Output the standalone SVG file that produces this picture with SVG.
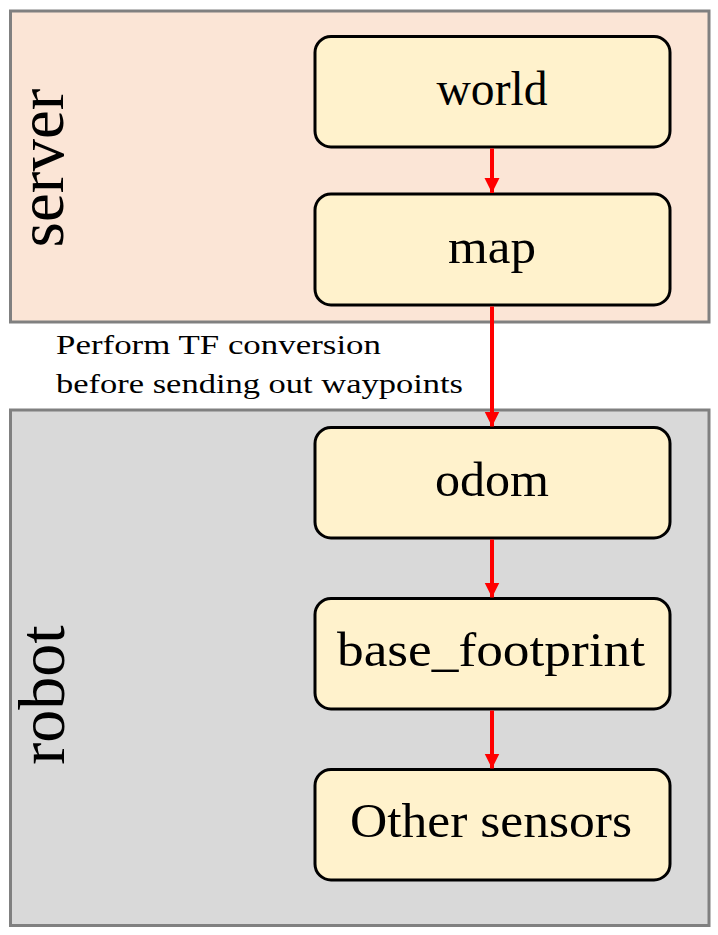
<svg xmlns="http://www.w3.org/2000/svg" width="718" height="935" viewBox="0 0 718 935">
<style>
.group{stroke:#808080;stroke-width:3}
.node rect{fill:#fff2cc;stroke:#000;stroke-width:3}
.lbl{font-family:"Liberation Serif","Times New Roman",serif;fill:#000}
.node text{font-size:48px;text-anchor:middle}
.edge{stroke:#ff0000;stroke-width:4;fill:none}
</style>
<defs>
<marker id="ah" markerUnits="userSpaceOnUse" markerWidth="16" markerHeight="16" viewBox="0 0 16 16" refX="15" refY="8" orient="auto">
<path d="M0,0.5 L15,8 L0,15.5 Z" fill="#ff0000"/>
</marker>
</defs>
<rect width="718" height="935" fill="#fff"/>
<g id="server">
<rect class="group" x="10.5" y="11" width="698.5" height="311" fill="#fbe5d6"/>
<text class="lbl" x="63" y="168" font-size="65" text-anchor="middle" transform="rotate(-90 63 168)">server</text>
</g>
<g id="robot">
<rect class="group" x="10.5" y="410" width="698.5" height="515.5" fill="#d9d9d9"/>
<text class="lbl" x="64" y="695" font-size="66" text-anchor="middle" transform="rotate(-90 64 695)">robot</text>
</g>
<g id="note">
<text class="lbl" x="56" y="354" font-size="27" textLength="325" lengthAdjust="spacingAndGlyphs">Perform TF conversion</text>
<text class="lbl" x="56" y="393" font-size="27" textLength="407" lengthAdjust="spacingAndGlyphs">before sending out waypoints</text>
</g>
<g id="world" class="node">
<rect x="315" y="36.5" width="355" height="110.5" rx="16"/>
<text class="lbl" x="492" y="105" textLength="111" lengthAdjust="spacingAndGlyphs">world</text>
</g>
<g id="map" class="node">
<rect x="315" y="194" width="355" height="111" rx="16"/>
<text class="lbl" x="492" y="263" textLength="88" lengthAdjust="spacingAndGlyphs">map</text>
</g>
<g id="odom" class="node">
<rect x="315" y="427.5" width="355" height="110.5" rx="16"/>
<text class="lbl" x="492" y="496" textLength="114" lengthAdjust="spacingAndGlyphs">odom</text>
</g>
<g id="base_footprint" class="node">
<rect x="315" y="598.5" width="355" height="110.5" rx="16"/>
<text class="lbl" x="491" y="666" textLength="308" lengthAdjust="spacingAndGlyphs">base_footprint</text>
</g>
<g id="other_sensors" class="node">
<rect x="315" y="769.5" width="355" height="110.5" rx="16"/>
<text class="lbl" x="491" y="837" textLength="282" lengthAdjust="spacingAndGlyphs">Other sensors</text>
</g>
<g id="connectors">
<line class="edge" x1="492" y1="148.5" x2="492" y2="193" marker-end="url(#ah)"/>
<line class="edge" x1="492" y1="306.5" x2="492" y2="426.5" marker-end="url(#ah)"/>
<line class="edge" x1="492" y1="539.5" x2="492" y2="597.5" marker-end="url(#ah)"/>
<line class="edge" x1="492" y1="710.5" x2="492" y2="768.5" marker-end="url(#ah)"/>
</g>
</svg>
